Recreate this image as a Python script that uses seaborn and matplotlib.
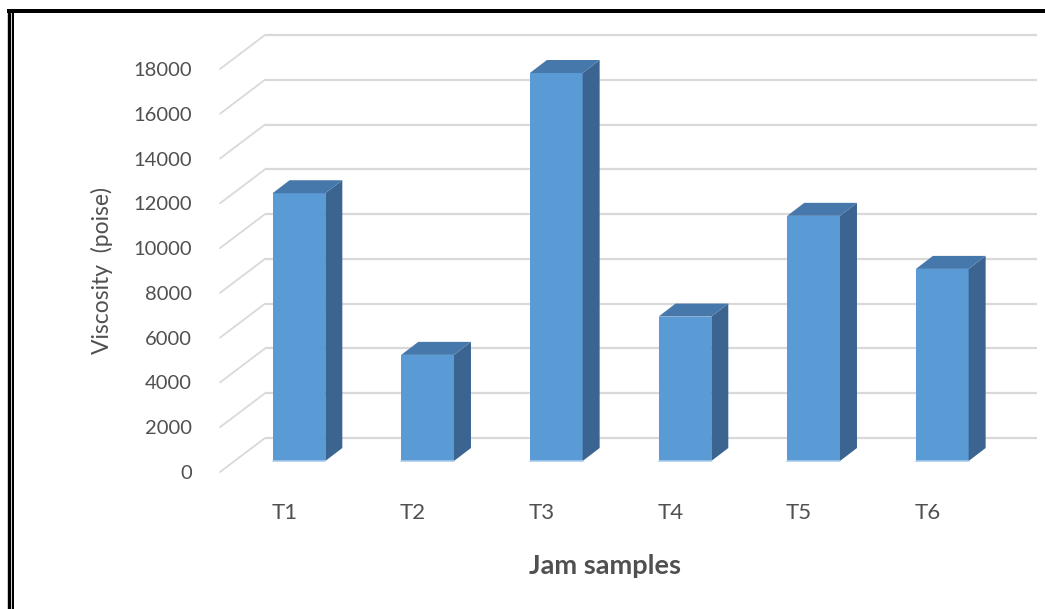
import matplotlib
matplotlib.use("Agg")
import matplotlib.pyplot as plt
import matplotlib.transforms as mtransforms
from matplotlib.patches import Polygon
from matplotlib.lines import Line2D
import numpy as np
import pandas as pd
import seaborn as sns

# ---- data ----
categories = ["T1", "T2", "T3", "T4", "T5", "T6"]
viscosity = [11960, 4740, 17330, 6450, 10950, 8580]
y_ticks = [0, 2000, 4000, 6000, 8000, 10000, 12000, 14000, 16000, 18000]
x_title = "Jam samples"
y_title = "Viscosity  (poise)"

df = pd.DataFrame({"sample": categories, "viscosity": viscosity})

sns.set_theme(style="white")
plt.rcParams["font.family"] = ["Lato", "DejaVu Sans"]

W, H, DPI = 1045, 609, 100
fig = plt.figure(figsize=(W / DPI, H / DPI), dpi=DPI)
fig.patch.set_facecolor("white")

# front plane of the pseudo-3D box
ax = fig.add_axes([220 / W, 1 - 472 / H, 772 / W, 403 / H])
ax.set_facecolor("none")

front_c = "#5B9BD5"
side_c = "#3B6590"
top_c = "#4778AB"
grid_c = "#D9D9D9"
text_c = "#505050"

sns.barplot(data=df, x="sample", y="viscosity", color=front_c, saturation=1,
            width=0.41, ax=ax, zorder=3)
ax.set_xlim(-0.5, len(categories) - 0.5)
ax.set_ylim(y_ticks[0], y_ticks[-1])

# depth vectors in display pixels
depth = np.array([45.0, 34.0])          # full floor depth
bar_front = np.array([14.6, 11.0])      # bar front face offset
bar_depth = np.array([17.0, 13.0])      # bar thickness

off_front = mtransforms.ScaledTranslation(bar_front[0] / DPI, bar_front[1] / DPI,
                                          fig.dpi_scale_trans)
off_back = mtransforms.ScaledTranslation(depth[0] / DPI, depth[1] / DPI,
                                         fig.dpi_scale_trans)

fig.canvas.draw()
tD = ax.transData
inv = tD.inverted()


def to_data(pts_disp):
    return inv.transform(np.asarray(pts_disp))


# gridlines: back wall + left side diagonals
for v in y_ticks:
    ax.plot([-0.5, len(categories) - 0.5], [v, v], color=grid_c, lw=1.6,
            transform=tD + off_back, clip_on=False, zorder=1, solid_capstyle="butt")
    p0 = tD.transform((-0.5, v))
    p1 = p0 + depth
    d = to_data([p0, p1])
    ax.plot(d[:, 0], d[:, 1], color=grid_c, lw=1.3, clip_on=False, zorder=1)

# 3D faces for bars
for p in ax.patches:
    x, w, h = p.get_x(), p.get_width(), p.get_height()
    p.set_transform(tD + off_front)
    p.set_edgecolor("none")
    p.set_clip_on(False)
    bl = tD.transform((x, 0)) + bar_front
    br = tD.transform((x + w, 0)) + bar_front
    tl = tD.transform((x, h)) + bar_front
    tr = tD.transform((x + w, h)) + bar_front
    side = to_data([br, tr, tr + bar_depth, br + bar_depth])
    top = to_data([tl, tr, tr + bar_depth, tl + bar_depth])
    ax.add_patch(Polygon(side, closed=True, facecolor=side_c, edgecolor="none",
                         clip_on=False, zorder=3))
    ax.add_patch(Polygon(top, closed=True, facecolor=top_c, edgecolor="none",
                         clip_on=False, zorder=3))
    base = to_data([bl, br])
    ax.plot(base[:, 0], base[:, 1], color="#A9CBEA", lw=1.2, clip_on=False, zorder=4)

for s in ax.spines.values():
    s.set_visible(False)
ax.grid(False)
ax.set_yticks(y_ticks)
ax.set_yticklabels([str(v) for v in y_ticks])
ax.tick_params(axis="y", length=0, pad=20, labelsize=14.5, labelcolor=text_c)
ax.tick_params(axis="x", length=0, pad=22, labelsize=16, labelcolor=text_c)

ax.set_xlabel(x_title, fontsize=19.5, fontweight="bold", color=text_c)
ax.set_ylabel(y_title, fontsize=16.5, color=text_c)
ax.yaxis.set_label_coords(-(220 - 113) / 772, (472 - 271) / 403)
ax.xaxis.set_label_coords((605 - 220) / 772, -(554 - 472) / 403)

# outer frame (black lines, top and left)
fig.add_artist(Line2D([7 / W, 1], [1 - 10.7 / H] * 2, color="black", lw=4 * 0.72,
                      transform=fig.transFigure, solid_capstyle="butt"))
fig.add_artist(Line2D([9 / W] * 2, [0, 1 - 8.7 / H], color="black", lw=3.4 * 0.72,
                      transform=fig.transFigure, solid_capstyle="butt"))
fig.add_artist(Line2D([13 / W] * 2, [0, 1 - 12 / H], color="black", lw=2 * 0.72,
                      transform=fig.transFigure, solid_capstyle="butt"))

fig.savefig("out.png", dpi=DPI, facecolor="white")
